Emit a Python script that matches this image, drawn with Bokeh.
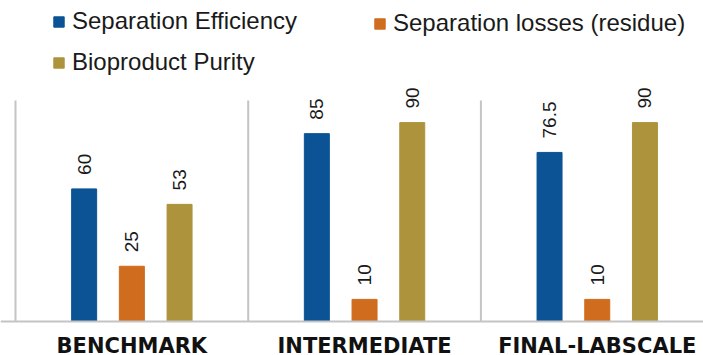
import math

from bokeh.plotting import figure
from bokeh.core.properties import value
from bokeh.models import (ColumnDataSource, Range1d, Span, Label, LabelSet,
                          Legend, LegendItem)
from bokeh.embed import file_html
from bokeh.resources import INLINE

# Process stages and measured indicators (%)
categories = ["BENCHMARK", "INTERMEDIATE", "FINAL-LABSCALE"]
efficiency = [60, 85, 76.5]
losses = [25, 10, 10]
purity = [53, 90, 90]

series_names = ["Separation Efficiency", "Separation losses (residue)", "Bioproduct Purity"]
series_values = [efficiency, losses, purity]
series_colors = ["#0b5394", "#cf6c1e", "#ad943c"]

W, H = 703, 355
GROUP_PX = 232.7      # pixel width of one stage group
PX_PER_UNIT = 2.21    # vertical pixels per percentage point
LEFT_PX = 15          # left edge of the first group
BASE_PX = 34          # space under the baseline
TOP_PX = 100          # space above the 100 % level

p = figure(width=W, height=H, output_backend="svg", toolbar_location=None,
           x_range=Range1d(-LEFT_PX / GROUP_PX, (W - LEFT_PX) / GROUP_PX),
           y_range=Range1d(-BASE_PX / PX_PER_UNIT, 100 + TOP_PX / PX_PER_UNIT),
           min_border=0)
p.xaxis.visible = False
p.yaxis.visible = False
p.grid.visible = False
p.outline_line_color = None
p.background_fill_color = "white"
p.border_fill_color = "white"

AXIS_COLOR = "#c4c4c4"
# vertical separators between stages (the first one is the left axis)
sep_x = list(range(len(categories)))
p.segment(x0=sep_x, y0=[0] * len(sep_x), x1=sep_x, y1=[100] * len(sep_x),
          line_color=AXIS_COLOR, line_width=2)
# baseline
p.add_layout(Span(location=0, dimension="width", line_color=AXIS_COLOR, line_width=2))

offsets = [-0.205, 0.0, 0.205]
bar_width = 0.1074
renderers = []
for k, (name, vals, color) in enumerate(zip(series_names, series_values, series_colors)):
    xs = [i + 0.5 + offsets[k] for i in range(len(categories))]
    src = ColumnDataSource(dict(x=xs, top=vals, label=[f"{v:g}" for v in vals]))
    r = p.vbar(x="x", top="top", width=bar_width, source=src,
               fill_color=color, line_color=color)
    renderers.append(r)
    p.add_layout(LabelSet(x="x", y="top", text="label", source=src,
                          angle=math.pi / 2, text_align="left", text_baseline="middle",
                          y_offset=14, text_font=value("Liberation Sans"),
                          text_font_size=value("19px"), text_color="#1a1a1a"))

# stage names under the baseline
label_y = -24 / PX_PER_UNIT
for i, cat in enumerate(categories):
    p.add_layout(Label(x=i + 0.5, y=label_y, text=cat,
                       text_align="center", text_baseline="middle",
                       text_font="DejaVu Sans", text_font_style="bold",
                       text_font_size="21px", text_color="#111111"))

ROW_H, ROW_GAP, LEGEND_TOP = 26, 13, 11


def make_legend(items, x):
    n = len(items)
    height = n * ROW_H + (n - 1) * ROW_GAP
    # location is the legend's bottom-left corner, measured from the frame's bottom-left
    return Legend(items=items, location=(x, H - LEGEND_TOP - height), orientation="vertical",
                  glyph_width=13, glyph_height=13, label_standoff=7,
                  label_height=ROW_H, spacing=ROW_GAP, padding=0, margin=0,
                  border_line_alpha=0, background_fill_alpha=0,
                  label_text_font="Liberation Sans", label_text_font_size="24px",
                  label_text_color="#1a1a1a")


p.add_layout(make_legend([LegendItem(label=series_names[0], renderers=[renderers[0]]),
                          LegendItem(label=series_names[2], renderers=[renderers[2]])], 52))
p.add_layout(make_legend([LegendItem(label=series_names[1], renderers=[renderers[1]])], 373))

open("out.html", "w").write(file_html(p, INLINE))
